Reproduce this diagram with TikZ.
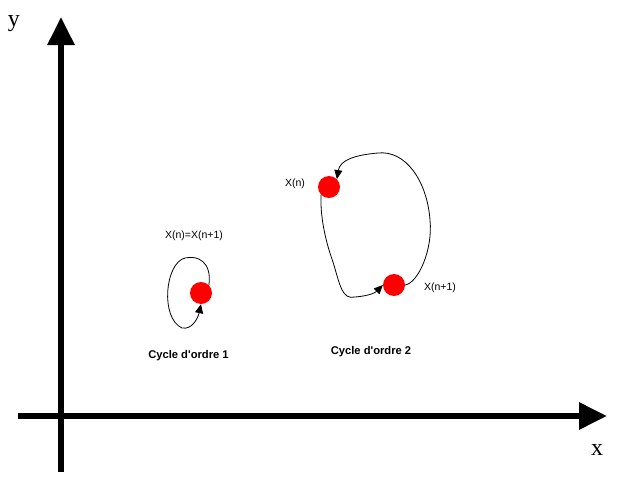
\documentclass[tikz,border=0pt]{standalone}
\usepackage{fontspec}
\setmainfont{Liberation Serif}
\setsansfont{Liberation Sans}
\usepackage{xcolor}
\usetikzlibrary{positioning,arrows.meta}
\tikzset{
  axe/.style  ={line width=6pt, -{Triangle[length=28pt,width=26pt]}},
  pt/.style   ={circle, fill=red, minimum size=22pt, inner sep=0pt},
  cyc/.style  ={line width=0.8pt, -{Triangle[length=9pt,width=8pt]}},
  lbl/.style  ={font=\sffamily\fontsize{10.5}{12}\selectfont, inner sep=0pt},
  titre/.style={font=\sffamily\bfseries\fontsize{11.2}{13}\selectfont, inner sep=0pt},
  axlbl/.style={font=\fontsize{24}{28}\selectfont, inner sep=0pt, anchor=base},
}
\begin{document}
\begin{tikzpicture}[x=1pt,y=-1pt]
\useasboundingbox (0,0) rectangle (619,479);
% axes
\coordinate (o1) at (61,472);
\coordinate (o2) at (61,17);
\coordinate (o3) at (18,416);
\coordinate (o4) at (607,416);
\draw[axe] (o1) -- (o2);
\draw[axe] (o3) -- (o4);
\node[axlbl] (ly) at (14,27) {y};
\node[axlbl] (lx) at (597,455) {x};
% points
\node[pt] (p1) at (201,293) {};
\node[pt] (p2) at (329,187) {};
\node[pt] (p3) at (394,285) {};
% labels
\node[lbl] (l1) at (194,236) {X(n)=X(n+1)};
\node[lbl] (l2) at (295,184) {X(n)};
\node[lbl] (l3) at (440,288) {X(n+1)};
\node[titre] (t1) at (188.5,356) {Cycle d\textquotesingle ordre 1};
\node[titre] (t2) at (371,352) {Cycle d\textquotesingle ordre 2};
% cycle d'ordre 1
\draw[cyc] (p1.north east) .. controls (212,262) and (198,255) .. (185,258)
  .. controls (165,263) and (160,318) .. (182,328)
  .. controls (192,330) and (198,318) .. (p1.south);
% cycle d'ordre 2
\draw[cyc] (p3.east) .. controls (418,283) and (433,250) .. (430,220)
  .. controls (427,180) and (405,150) .. (378,153)
  .. controls (355,155) and (340,160) .. (p2.north east);
\draw[cyc] (p2.south west) .. controls (320,215) and (325,240) .. (333,262)
  .. controls (340,285) and (342,300) .. (355,297)
  .. controls (368,296) and (375,293) .. (p3.west);
\end{tikzpicture}
\end{document}
